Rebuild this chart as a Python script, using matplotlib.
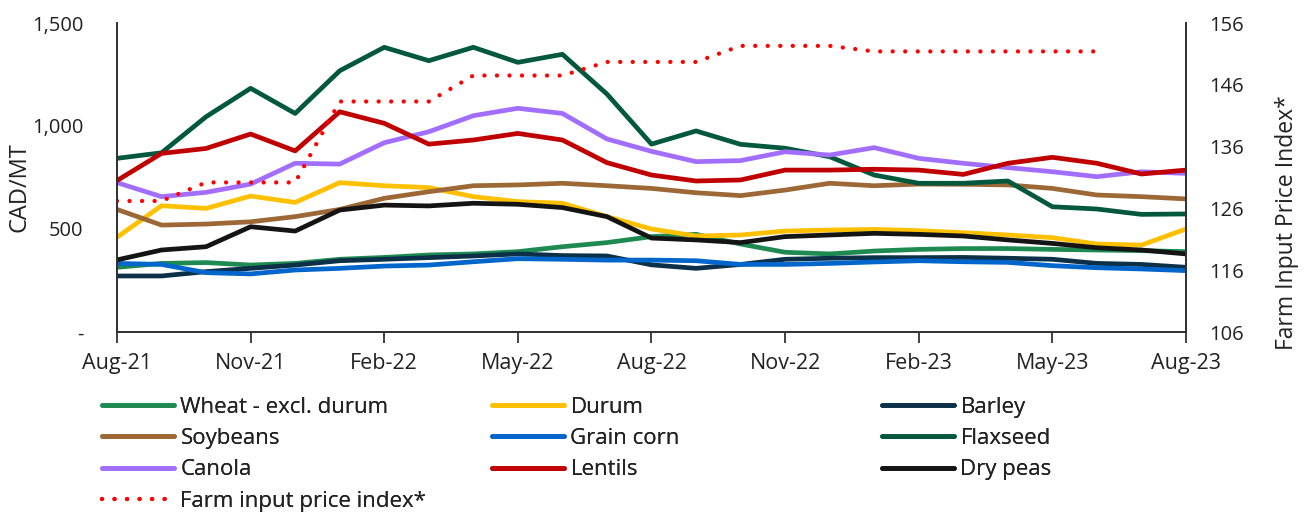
import numpy as np
import matplotlib
matplotlib.use('Agg')
import matplotlib.pyplot as plt

plt.rcParams['font.family'] = ['Open Sans', 'DejaVu Sans']

# monthly, Aug-21 .. Aug-23
months = ['Aug-21', 'Sep-21', 'Oct-21', 'Nov-21', 'Dec-21', 'Jan-22', 'Feb-22', 'Mar-22',
          'Apr-22', 'May-22', 'Jun-22', 'Jul-22', 'Aug-22', 'Sep-22', 'Oct-22', 'Nov-22',
          'Dec-22', 'Jan-23', 'Feb-23', 'Mar-23', 'Apr-23', 'May-23', 'Jun-23', 'Jul-23', 'Aug-23']

wheat = [314, 333, 337, 325, 333, 353, 362, 374, 379, 390, 414, 434, 463,
         474, 427, 387, 379, 393, 401, 405, 405, 401, 398, 395, 390]
durum = [460, 613, 600, 660, 629, 725, 710, 701, 657, 633, 625, 560, 500,
         466, 471, 490, 495, 498, 492, 482, 471, 458, 427, 422, 500]
barley = [272, 272, 293, 309, 325, 346, 353, 361, 369, 379, 371, 369, 326,
          309, 328, 353, 358, 361, 361, 362, 358, 353, 333, 328, 314]
soybeans = [595, 519, 524, 535, 560, 595, 649, 681, 710, 714, 722, 710, 697,
            676, 662, 689, 722, 710, 718, 717, 714, 697, 665, 657, 646]
grain_corn = [333, 328, 288, 282, 301, 309, 320, 325, 341, 356, 353, 349, 349,
              346, 328, 328, 333, 340, 346, 341, 338, 322, 312, 306, 298]
flaxseed = [843, 870, 1045, 1183, 1061, 1268, 1382, 1317, 1382, 1309, 1348, 1155, 912,
            976, 911, 892, 851, 762, 722, 722, 733, 608, 597, 571, 573]
canola = [725, 657, 678, 718, 819, 815, 919, 972, 1050, 1086, 1061, 937, 877,
          827, 832, 875, 859, 895, 843, 819, 798, 778, 754, 778, 770]
lentils = [735, 867, 891, 961, 879, 1069, 1013, 912, 932, 964, 932, 822, 762,
           733, 738, 786, 786, 790, 786, 765, 819, 848, 819, 767, 786]
dry_peas = [350, 398, 414, 511, 490, 592, 616, 612, 625, 620, 604, 560, 456,
            447, 434, 463, 471, 479, 474, 466, 447, 430, 409, 398, 379]
# farm input price index (right axis), last value Jun-23
farm_index = [127.2, 127.2, 130.2, 130.2, 130.2, 143.3, 143.3, 143.3, 147.5, 147.5, 147.5,
              149.7, 149.7, 149.7, 152.3, 152.3, 152.3, 151.4, 151.4, 151.4, 151.4,
              151.4, 151.4]

series = [
    ('Wheat - excl. durum', wheat, '#1E8A52'),
    ('Durum', durum, '#FFC000'),
    ('Barley', barley, '#0B3048'),
    ('Soybeans', soybeans, '#9C6835'),
    ('Grain corn', grain_corn, '#0066CC'),
    ('Flaxseed', flaxseed, '#02583D'),
    ('Canola', canola, '#A26EFF'),
    ('Lentils', lentils, '#C00000'),
    ('Dry peas', dry_peas, '#141414'),
]

x = np.arange(len(months))
TXT = '#222222'

fig = plt.figure(figsize=(13.09, 5.12), dpi=100)
ax = fig.add_axes([117 / 1309, 1 - 332 / 512, (1186 - 117) / 1309, (332 - 23) / 512])
ax2 = ax.twinx()

handles = {}
for name, vals, color in series:
    ln, = ax.plot(x, vals, color=color, lw=3.4, solid_joinstyle='round',
                  solid_capstyle='round', label=name)
    handles[name] = ln

fi, = ax2.plot(x[:len(farm_index)], farm_index, color='#FF0000', lw=3.1,
               linestyle=(0, (0.01, 2.9)), dash_capstyle='round',
               label='Farm input price index*')
handles['Farm input price index*'] = fi

ax.set_xlim(0, 24)
ax.set_ylim(0, 1500)
ax2.set_ylim(106, 156)

ax.set_xticks(x[::3])
ax.set_xticklabels(months[::3])
ax.set_yticks([0, 500, 1000, 1500])
ax.set_yticklabels(['-', '500', '1,000', '1,500'])
ax2.set_yticks(np.arange(106, 157, 10))

for a in (ax, ax2):
    a.spines['top'].set_visible(False)
    for s in a.spines.values():
        s.set_color('#333333')
        s.set_linewidth(1.3)
ax.tick_params(axis='x', length=8, width=1.3, color='#333333', pad=7,
               labelsize=15.5, labelcolor=TXT)
ax.tick_params(axis='y', length=0, pad=24, labelsize=14.5, labelcolor=TXT)
ax2.tick_params(axis='y', length=0, pad=17, labelsize=14.5, labelcolor=TXT)

fig.text(20 / 1309, 1 - 187 / 512, 'CAD/MT', rotation=90, ha='center', va='center',
         fontsize=17, color=TXT)
fig.text(1287 / 1309, 1 - 223 / 512, 'Farm Input Price Index*', rotation=90,
         ha='center', va='center', fontsize=16.5, color=TXT)

# legend laid out as three fixed-width columns, row-wise like the original
cols = [
    (['Wheat - excl. durum', 'Soybeans', 'Canola', 'Farm input price index*'], 102),
    (['Durum', 'Grain corn', 'Lentils'], 492),
    (['Barley', 'Flaxseed', 'Dry peas'], 882),
]
for names, px in cols:
    leg = fig.legend([handles[n] for n in names], names, loc='upper left',
                     bbox_to_anchor=(px / 1309, 1 - 397 / 512), frameon=False,
                     fontsize=16, handlelength=3.25, handletextpad=0.28,
                     labelspacing=0.46, borderaxespad=0, borderpad=0)
    for t in leg.get_texts():
        t.set_color(TXT)
    fig.add_artist(leg)

fig.savefig('out.png', dpi=100)
